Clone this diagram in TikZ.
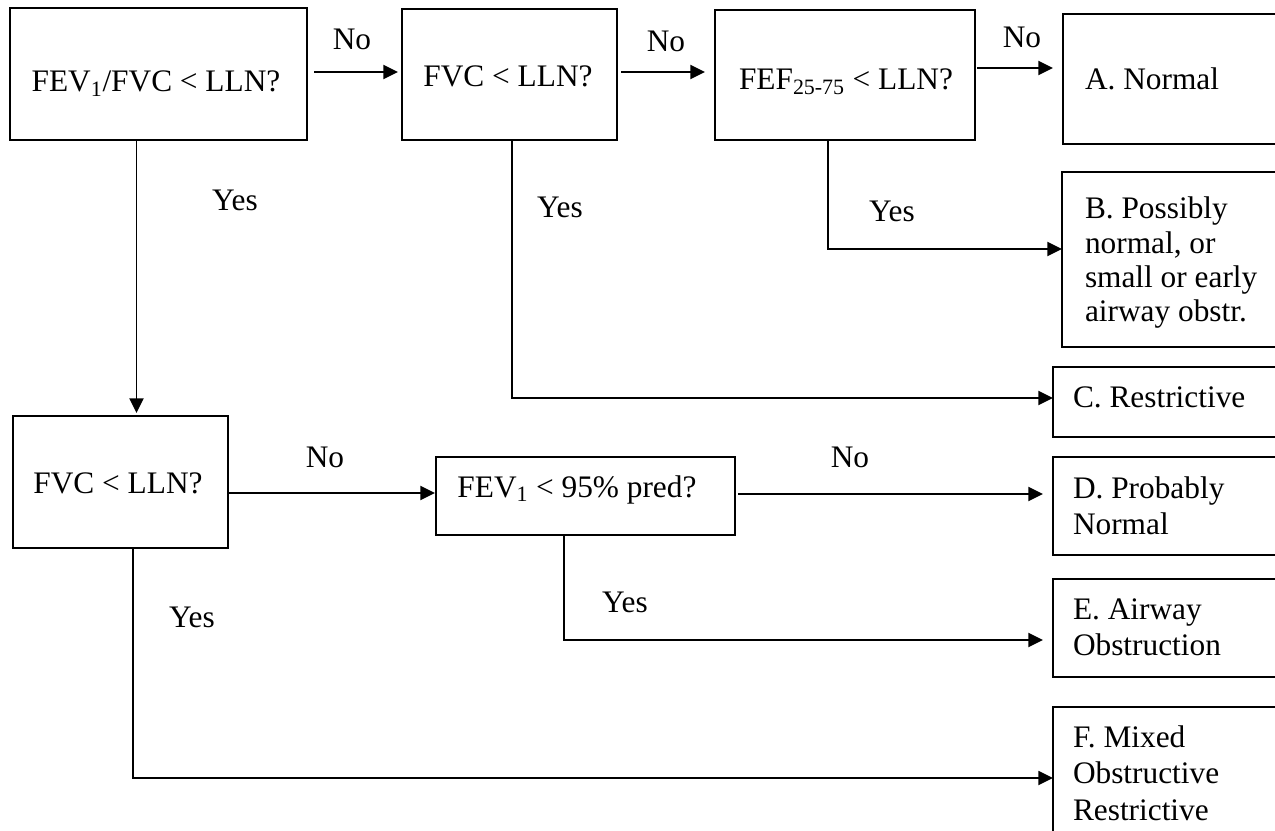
\documentclass[tikz,border=0pt]{standalone}
\usepackage{fontspec}
\setmainfont{Liberation Serif}
\usetikzlibrary{arrows.meta,fit}
\newcommand\mylines[1]{\begin{tabular}[t]{@{}l@{}}#1\end{tabular}}
\begin{document}
\begin{tikzpicture}[x=0.75pt,y=-0.75pt,
  box/.style={draw, line width=1.5pt, inner sep=0pt, outer sep=0pt},
  txt/.style={font=\fontsize{23.5}{27.4}\selectfont, inner sep=0pt, outer sep=0pt},
  conn/.style={line width=1.4pt, -{Triangle[length=11pt,width=10.5pt]}},
  ]
\useasboundingbox (0,0) rectangle (1275,831);
\clip (0,0) rectangle (1275,831);
\fill[white] (0,0) rectangle (1275,831);

% boxes
\node[box, fit={(10,8)(307,140)}] (q1) {};
\node[box, fit={(402,9)(617,140)}] (q2) {};
\node[box, fit={(715,10)(975,140)}] (q3) {};
\node[box, fit={(13,416)(228,548)}] (q4) {};
\node[box, fit={(436,457)(735,535)}] (q5) {};
\node[box, fit={(1063,14)(1300,144)}] (rA) {};
\node[box, fit={(1062,172)(1300,347)}] (rB) {};
\node[box, fit={(1053,367)(1300,437)}] (rC) {};
\node[box, fit={(1053,457)(1300,555)}] (rD) {};
\node[box, fit={(1053,579)(1300,677)}] (rE) {};
\node[box, fit={(1053,707)(1300,870)}] (rF) {};

% box texts
\node[txt, anchor=base] (t1) at (156,92) {FEV\textsubscript{1}/FVC < LLN?};
\node[txt, anchor=base] (t2) at (508,87) {FVC < LLN?};
\node[txt, anchor=base] (t3) at (846,90) {FEF\textsubscript{25-75} < LLN?};
\node[txt, anchor=base] (t4) at (118,493) {FVC < LLN?};
\node[txt, anchor=base] (t5) at (577,497) {FEV\textsubscript{1} < 95\% pred?};
\node[txt, anchor=base west] (tA) at (1085,90) {A. Normal};
\node[txt, font=\fontsize{23.5}{25.7}\selectfont, anchor=base west] (tB) at (1085,219)
  {\mylines{B. Possibly\\normal, or\\small or early\\airway obstr.}};
\node[txt, anchor=base west] (tC) at (1073,407) {C. Restrictive};
\node[txt, anchor=base west] (tD) at (1073,498) {\mylines{D. Probably\\Normal}};
\node[txt, anchor=base west] (tE) at (1073,619) {\mylines{E. Airway\\Obstruction}};
\node[txt, anchor=base west] (tF) at (1073,747) {\mylines{F. Mixed\\Obstructive\\Restrictive}};

% connectors
\draw[conn] ([shift={(7,-2)}]q1.east) -- ([shift={(-4,-2.5)}]q2.west);
\draw[conn] ([shift={(4,-2.5)}]q2.east) -- ([shift={(-10,-3)}]q3.west);
\draw[conn] ([shift={(2,-7)}]q3.east) -- ([shift={(-10,-11)}]rA.west);
\draw[conn] ([shift={(-22,0)}]q1.south) -- ([shift={(16,-3)}]q4.north);
\draw[conn] ([shift={(2.5,0)}]q2.south) |- ([shift={(0,-4)}]rC.west);
\draw[conn] ([shift={(-17,0)}]q3.south) |- ([shift={(0,-10.5)}]rB.west);
\draw[conn] ([shift={(0,11)}]q4.east) -- ([shift={(-1,-3)}]q5.west);
\draw[conn] ([shift={(3,-2)}]q5.east) -- ([shift={(-10,-12)}]rD.west);
\draw[conn] ([shift={(-21.5,0)}]q5.south) |- ([shift={(-10,12)}]rE.west);
\draw[conn] ([shift={(12.5,0)}]q4.south) |- ([shift={(0,-10.5)}]rF.west);

% labels
\node[txt, anchor=base] (no1) at (352,50) {No};
\node[txt, anchor=base] (no2) at (666,52) {No};
\node[txt, anchor=base] (no3) at (1022,48) {No};
\node[txt, anchor=base] (no4) at (325,467) {No};
\node[txt, anchor=base] (no5) at (850,467) {No};
\node[txt, anchor=base] (yes1) at (235,211) {Yes};
\node[txt, anchor=base] (yes2) at (560,218) {Yes};
\node[txt, anchor=base] (yes3) at (892,222) {Yes};
\node[txt, anchor=base] (yes4) at (625,612) {Yes};
\node[txt, anchor=base] (yes5) at (192,627) {Yes};
\end{tikzpicture}
\end{document}
